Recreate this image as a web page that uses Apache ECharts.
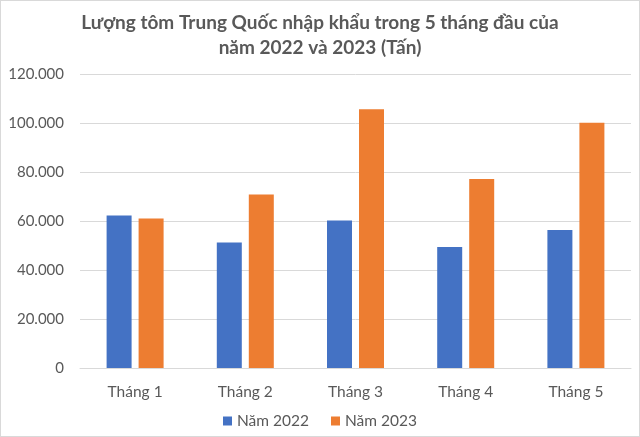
<!DOCTYPE html>
<html><head><meta charset="utf-8">
<script src="https://cdn.jsdelivr.net/npm/echarts@6/dist/echarts.min.js"></script>
<style>html,body{margin:0;padding:0;background:#fff}#c{width:638px;height:435px;border:1px solid #d9d9d9}</style>
</head><body><div id="c"></div>
<script>
var categories = ['Tháng 1','Tháng 2','Tháng 3','Tháng 4','Tháng 5'];
var seriesNames = ['Năm 2022','Năm 2023'];
var values2022 = [62200, 51200, 60200, 49400, 56300];
var values2023 = [61000, 70800, 105600, 77100, 100100];
var titleText = 'Lượng tôm Trung Quốc nhập khẩu trong 5 tháng đầu của\nnăm 2022 và 2023 (Tấn)';
function fmt(v){return String(v).replace(/\B(?=(\d{3})+(?!\d))/g,'.');}
var chart = echarts.init(document.getElementById('c'));
var F = 'Lato, "Open Sans", sans-serif';
chart.setOption({
  animation:false,
  color:['#4472C4','#ED7D31'],
  title:{text:titleText,left:'center',top:4,textStyle:{fontFamily:F,fontSize:19,fontWeight:'bold',color:'#595959',lineHeight:25}},
  grid:{left:79,right:8,top:73,bottom:68},
  legend:{data:seriesNames,bottom:2,left:'center',itemWidth:9,itemHeight:9,itemGap:22,icon:'rect',textStyle:{fontFamily:F,fontSize:15.5,color:'#595959'}},
  xAxis:{type:'category',data:categories,axisLine:{lineStyle:{color:'#d9d9d9'}},axisTick:{show:false},axisLabel:{fontFamily:F,fontSize:15.5,color:'#595959',margin:16}},
  yAxis:{type:'value',min:0,max:120000,interval:20000,axisLine:{show:false},axisTick:{show:false},splitLine:{lineStyle:{color:'#d9d9d9'}},axisLabel:{fontFamily:F,fontSize:15,color:'#595959',margin:16,formatter:fmt}},
  series:[
    {name:seriesNames[0],type:'bar',data:values2022,barWidth:25,barGap:'28%'},
    {name:seriesNames[1],type:'bar',data:values2023,barWidth:25,barGap:'28%'}
  ]
});
</script></body></html>
